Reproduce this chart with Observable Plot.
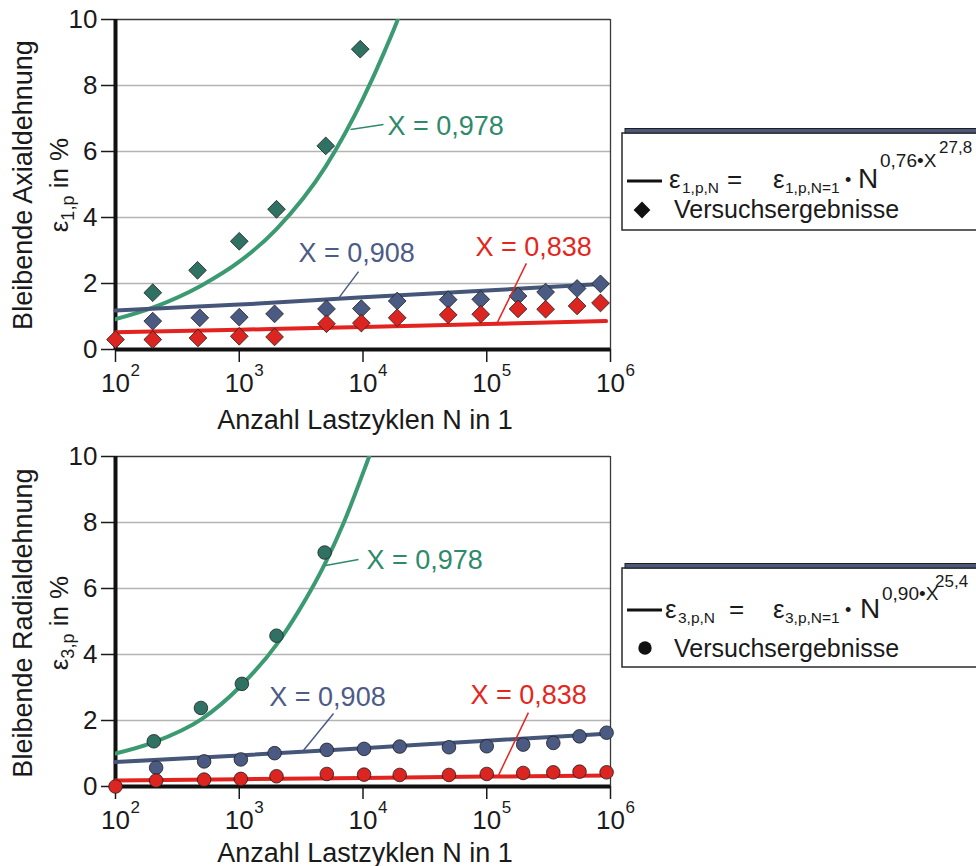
<!DOCTYPE html>
<html>
<head>
<meta charset="utf-8">
<script src="https://cdn.jsdelivr.net/npm/d3@7"></script>
<script src="https://cdn.jsdelivr.net/npm/@observablehq/plot@0.6"></script>
<style>
  html, body { margin: 0; padding: 0; background: white; }
  #wrap svg { display: block; }
</style>
</head>
<body>
<div id="wrap"></div>
<script>
// ---------- shared axis data ----------
const xTicks = [1e2, 1e3, 1e4, 1e5, 1e6];
const xTickExp = ["2", "3", "4", "5", "6"];
const yTicks = [0, 2, 4, 6, 8, 10];
const fitLabels = ["X = 0,978", "X = 0,908", "X = 0,838"];

// ---------- top chart: axial strain ----------
const axGreenN = [200, 460, 1000, 2000, 5000, 9500];
const axGreenV = [1.72, 2.40, 3.28, 4.25, 6.17, 9.10];
const axBlueN = [200, 480, 1000, 1930, 5070, 9700, 18900, 48800, 89400, 179000, 299000, 537000, 830000];
const axBlueV = [0.86, 0.96, 0.98, 1.08, 1.23, 1.24, 1.47, 1.51, 1.52, 1.62, 1.74, 1.85, 1.99];
const axRedN = [100, 200, 464, 1000, 1930, 5070, 9700, 18900, 48800, 89400, 179000, 299000, 537000, 830000];
const axRedV = [0.30, 0.30, 0.35, 0.40, 0.38, 0.78, 0.80, 0.96, 1.05, 1.07, 1.23, 1.22, 1.32, 1.41];
const axFitGreenN = [100, 200, 500, 1000, 2000, 5000, 10000, 15000, 20000, 25000];
const axFitGreenV = [0.92, 1.27, 1.95, 2.66, 3.65, 5.55, 7.6, 9.05, 10.2, 11.3];
const axFitBlueN = [100, 1000, 10000, 100000, 920000];
const axFitBlueV = [1.18, 1.36, 1.58, 1.79, 1.99];
const axFitRedN = [100, 1000, 10000, 100000, 920000];
const axFitRedV = [0.52, 0.60, 0.68, 0.77, 0.86];
const axLabelN = [15780, 3010, 81100];
const axLabelV = [6.76, 2.91, 3.09];
const axLeadN1 = [7930, 9200, 209000];
const axLeadV1 = [6.67, 2.36, 2.61];
const axLeadN2 = [14650, 6340, 122000];
const axLeadV2 = [6.82, 1.55, 0.82];

// ---------- bottom chart: radial strain ----------
const raGreenN = [204, 490, 1050, 2000, 4900];
const raGreenV = [1.37, 2.38, 3.11, 4.57, 7.09];
const raBlueN = [213, 520, 1030, 1930, 5100, 10200, 19800, 49500, 100000, 197000, 345000, 562000, 930000];
const raBlueV = [0.57, 0.76, 0.82, 1.01, 1.11, 1.14, 1.21, 1.19, 1.22, 1.27, 1.32, 1.52, 1.63];
const raRedN = [100, 213, 520, 1030, 2000, 5100, 10200, 19800, 49500, 100000, 197000, 345000, 562000, 930000];
const raRedV = [0.0, 0.18, 0.21, 0.23, 0.31, 0.38, 0.36, 0.35, 0.35, 0.38, 0.41, 0.43, 0.45, 0.43];
const raFitGreenN = [100, 200, 500, 1000, 2000, 3000, 5000, 7000, 10000, 11200, 13000];
const raFitGreenV = [1.0, 1.33, 2.05, 3.0, 4.3, 5.3, 6.8, 8.0, 9.5, 10.0, 10.8];
const raFitBlueN = [100, 1000, 10000, 100000, 920000];
const raFitBlueV = [0.74, 0.94, 1.16, 1.39, 1.60];
const raFitRedN = [100, 1000, 10000, 100000, 920000];
const raFitRedV = [0.18, 0.22, 0.26, 0.30, 0.33];
const raLabelN = [10670, 1750, 73900];
const raLabelV = [6.85, 2.70, 2.76];
const raLeadN1 = [4980, 5780, 217000];
const raLeadV1 = [6.70, 2.21, 2.24];
const raLeadN2 = [9200, 3300, 122000];
const raLeadV2 = [6.88, 1.09, 0.27];

// ---------- legend / title texts ----------
const xTitle = "Anzahl Lastzyklen N in 1";
const legendResult = "Versuchsergebnisse";
const legendTop = ["ε", "1,p,N", "=", "ε", "1,p,N=1", "•", "N", "0,76•X", "27,8"];
const legendBot = ["ε", "3,p,N", "=", "ε", "3,p,N=1", "•", "N", "0,90•X", "25,4"];

// ---------- styles ----------
const FONT = "'Liberation Sans', Arial, Helvetica, sans-serif";
const LINE_COLORS = ["#3c9a72", "#465679", "#e2231f"];
const MARK_COLORS = ["#2f7264", "#4a5a82", "#dc2420"];
const TEXT_COLORS = ["#2f8a6c", "#4d5b86", "#e52620"];

const rows = (N, V) => N.map((n, i) => ({n, v: V[i]}));

function chart(cfg) {
  const labels = fitLabels.map((t, i) => ({t, n: cfg.labelN[i], v: cfg.labelV[i], c: TEXT_COLORS[i]}));
  const leads = fitLabels.map((t, i) => ({n1: cfg.leadN1[i], v1: cfg.leadV1[i], n2: cfg.leadN2[i], v2: cfg.leadV2[i], c: TEXT_COLORS[i]}));
  const dotOpts = (c) => ({x: "n", y: "v", symbol: cfg.symbol, r: cfg.r, fill: c, stroke: "#1e1e1e", strokeWidth: 0.8});
  const svg = Plot.plot({
    width: 976, height: cfg.height,
    marginLeft: 115, marginRight: 366, marginTop: cfg.mt, marginBottom: cfg.mb,
    style: {fontFamily: FONT, fontSize: "26px", color: "#1a1a1a", background: "white"},
    x: {type: "log", domain: [1e2, 1e6]},
    y: {domain: [0, 10]},
    marks: [
      Plot.ruleY([2, 4, 6, 8], {stroke: "#b4b4b4", strokeWidth: 1.5}),
      Plot.ruleY([10], {stroke: "#3a3a3a", strokeWidth: 1.3}),
      Plot.ruleX([1e6], {stroke: "#3a3a3a", strokeWidth: 1.3}),
      Plot.axisY({ticks: yTicks, tickSize: 14, tickPadding: 4, fontSize: 26, label: null, strokeWidth: 1.5}),
      Plot.axisX({ticks: xTicks, tickSize: 13, tickPadding: 11, fontSize: 26, label: null, strokeWidth: 1.5, tickFormat: () => "10"}),
      Plot.text(xTicks, {x: d => d, frameAnchor: "bottom", text: (d, i) => xTickExp[i], dx: 15, dy: 26, textAnchor: "start", lineAnchor: "bottom", fontSize: 17}),
      Plot.text([xTitle], {frameAnchor: "bottom", text: d => d, dx: 2, dy: cfg.titleDy, lineAnchor: "bottom", fontSize: 27}),
      Plot.ruleX([1e2], {stroke: "#111", strokeWidth: 4}),
      Plot.ruleY([0], {stroke: "#111", strokeWidth: 4}),
      Plot.line(rows(cfg.fitGN, cfg.fitGV), {x: "n", y: "v", stroke: LINE_COLORS[0], strokeWidth: 4, curve: "monotone-x", clip: true}),
      Plot.line(rows(cfg.fitBN, cfg.fitBV), {x: "n", y: "v", stroke: LINE_COLORS[1], strokeWidth: 4, curve: "monotone-x"}),
      Plot.line(rows(cfg.fitRN, cfg.fitRV), {x: "n", y: "v", stroke: LINE_COLORS[2], strokeWidth: 4, curve: "monotone-x"}),
      Plot.dot(rows(cfg.gN, cfg.gV), dotOpts(MARK_COLORS[0])),
      Plot.dot(rows(cfg.bN, cfg.bV), dotOpts(MARK_COLORS[1])),
      Plot.dot(rows(cfg.rN, cfg.rV), dotOpts(MARK_COLORS[2])),
      Plot.link(leads, {x1: "n1", y1: "v1", x2: "n2", y2: "v2", stroke: "c", strokeWidth: 1.5}),
      Plot.text(labels, {x: "n", y: "v", text: "t", fill: "c", textAnchor: "start", fontSize: 27})
    ]
  });
  const s = d3.select(svg);
  // rotated y titles
  s.append("text")
    .attr("transform", `translate(32,${cfg.titleCy}) rotate(-90)`)
    .attr("text-anchor", "middle").attr("font-family", FONT).attr("font-size", 27).attr("fill", "#1a1a1a")
    .text(cfg.yTitle);
  const t2 = s.append("text")
    .attr("transform", `translate(68,${cfg.titleCy}) rotate(-90)`)
    .attr("text-anchor", "middle").attr("font-family", FONT).attr("font-size", 26).attr("fill", "#1a1a1a")
    .style("white-space", "pre");
  t2.append("tspan").text("ε");
  t2.append("tspan").attr("font-size", 18).attr("dy", 6).text(cfg.ySub);
  t2.append("tspan").attr("dy", -6).text(" in %");
  addLegend(s, cfg.legend);
  return svg;
}

function addLegend(s, L) {
  const g = s.append("g").attr("font-family", FONT).attr("fill", "#1a1a1a").attr("text-anchor", "start");
  g.append("rect").attr("x", 622).attr("y", L.top).attr("width", 420).attr("height", L.h)
    .attr("fill", "white").attr("stroke", "#2a2a2a").attr("stroke-width", 1.5);
  g.append("rect").attr("x", 625).attr("y", L.top - 4.5).attr("width", 420).attr("height", 4.5)
    .attr("fill", "#4b587a").attr("stroke", "#1e1e1e").attr("stroke-width", 1);
  g.append("line").attr("x1", 627).attr("x2", 662).attr("y1", L.lineY).attr("y2", L.lineY)
    .attr("stroke", "#111").attr("stroke-width", 3);
  const p = L.parts;
  const b = L.base;
  const t = g.append("text").attr("text-anchor", "start").style("white-space", "pre");
  const pieces = [
    {s: p[0], x: L.xs[0], y: b, fs: 26},
    {s: p[1], x: L.xs[1], y: b + 5, fs: 15.5},
    {s: p[2], x: L.xs[2], y: b, fs: 26},
    {s: p[3], x: L.xs[3], y: b, fs: 26},
    {s: p[4], x: L.xs[4], y: b + 5, fs: 15.5},
    {s: p[5], x: L.xs[5], y: b - 2, fs: 18},
    {s: p[6], x: L.xs[6], y: b, fs: 28},
    {s: p[7], x: L.xs[7], y: L.sup1, fs: 19},
    {s: p[8], x: L.xs[8], y: L.sup2, fs: 17}
  ];
  pieces.forEach(q => t.append("tspan").attr("x", q.x).attr("y", q.y).attr("font-size", q.fs).text(q.s));
  const sym = d3.symbol(L.symbol, L.symSize)();
  g.append("path").attr("d", sym).attr("transform", `translate(${L.symX},${L.symY})`).attr("fill", "#111");
  g.append("text").attr("text-anchor", "start").attr("x", 674).attr("y", L.row2).attr("font-size", 25).text(legendResult);
}

const wrap = document.getElementById("wrap");

wrap.appendChild(chart({
  height: 440, mt: 19, mb: 91, titleDy: 79, titleCy: 185,
  yTitle: "Bleibende Axialdehnung", ySub: "1,p",
  symbol: "diamond2", r: 8,
  gN: axGreenN, gV: axGreenV, bN: axBlueN, bV: axBlueV, rN: axRedN, rV: axRedV,
  fitGN: axFitGreenN, fitGV: axFitGreenV, fitBN: axFitBlueN, fitBV: axFitBlueV, fitRN: axFitRedN, fitRV: axFitRedV,
  labelN: axLabelN, labelV: axLabelV, leadN1: axLeadN1, leadV1: axLeadV1, leadN2: axLeadN2, leadV2: axLeadV2,
  legend: {top: 133, h: 97, lineY: 181, base: 188, sup1: 167, sup2: 153, row2: 218,
           xs: [669, 682, 727, 773, 785, 845, 858, 880, 939], parts: legendTop,
           symbol: d3.symbolDiamond2, symSize: 180, symX: 642, symY: 210}
}));

wrap.appendChild(chart({
  height: 426, mt: 16, mb: 80, titleDy: 75, titleCy: 183,
  yTitle: "Bleibende Radialdehnung", ySub: "3,p",
  symbol: "circle", r: 6.8,
  gN: raGreenN, gV: raGreenV, bN: raBlueN, bV: raBlueV, rN: raRedN, rV: raRedV,
  fitGN: raFitGreenN, fitGV: raFitGreenV, fitBN: raFitBlueN, fitBV: raFitBlueV, fitRN: raFitRedN, fitRV: raFitRedV,
  labelN: raLabelN, labelV: raLabelV, leadN1: raLeadN1, leadV1: raLeadV1, leadN2: raLeadN2, leadV2: raLeadV2,
  legend: {top: 128, h: 99, lineY: 170, base: 178, sup1: 160, sup2: 147, row2: 217,
           xs: [665, 678, 729, 773, 785, 845, 860, 882, 935], parts: legendBot,
           symbol: d3.symbolCircle, symSize: 140, symX: 645, symY: 208}
}));
</script>
</body>
</html>
